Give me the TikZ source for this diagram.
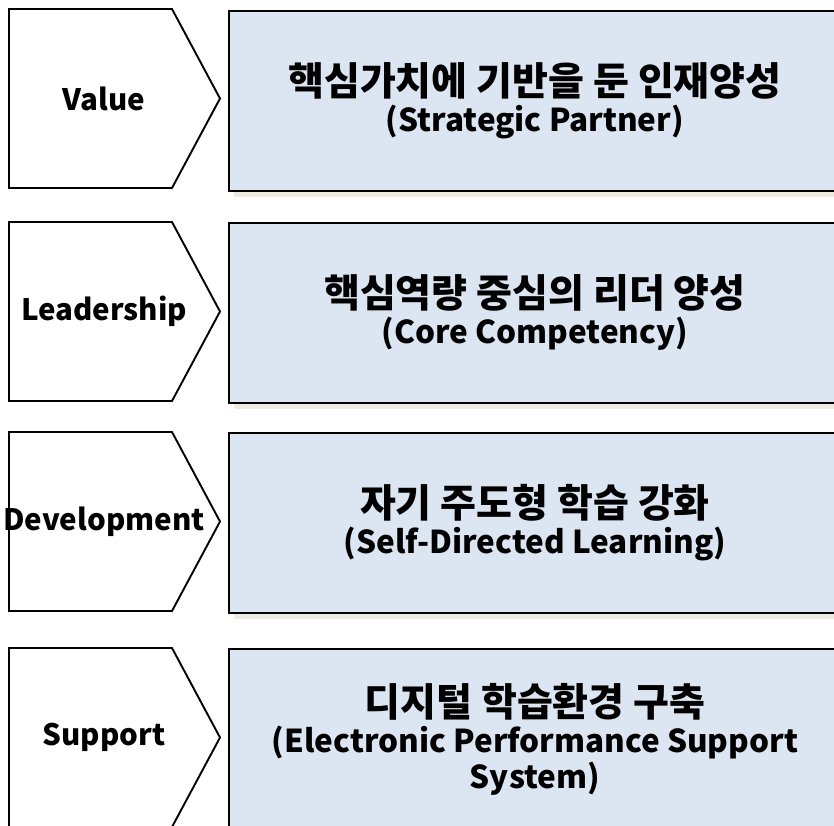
\documentclass[tikz,border=0pt]{standalone}
\usepackage{fontspec}
\setmainfont{Noto Sans CJK KR}
\usetikzlibrary{shadows}
\definecolor{boxblue}{HTML}{DCE6F2}
\definecolor{boxshade}{HTML}{EEECE1}
\begin{document}
\begin{tikzpicture}[x=1pt,y=-1pt,
  tag/.style={font=\fontsize{29.5}{34}\selectfont\bfseries},
  arrowbox/.style={draw=black,line width=1.9pt,fill=white},
  goal/.style={draw=black,line width=1.9pt,fill=boxblue,anchor=north west,
    minimum width=612pt,minimum height=180pt,inner sep=0pt,align=center,
    font=\fontsize{31.5}{36}\selectfont\bfseries,
    drop shadow={shadow xshift=5pt,shadow yshift=-6pt,fill=boxshade,opacity=1}}]
\useasboundingbox (0,0) rectangle (834,825);
% left arrows
\draw[arrowbox](9,9)--(172,9)--(220,98.5)--(172,188)--(9,188)--cycle;
\draw[arrowbox](9,222)--(172,222)--(220,311.5)--(172,401)--(9,401)--cycle;
\draw[arrowbox](9,432)--(172,432)--(220,521.5)--(172,611)--(9,611)--cycle;
\draw[arrowbox](9,648)--(172,648)--(220,737.5)--(172,827)--(9,827)--cycle;
\node[tag] (value) at (104,98.5){Value};
\node[tag] (leader) at (104,311.5){Leadership};
\node[tag] (develop) at (104,521.5){Development};
\node[tag] (support) at (104,737.5){Support};
% right boxes
\node[goal] (valuebox) at (228,10){{\fontsize{39}{37}\selectfont 핵심가치에 기반을 둔 인재양성}\\(Strategic Partner)};
\node[goal] (leaderbox) at (228,222){{\fontsize{39}{37}\selectfont 핵심역량 중심의 리더 양성}\\(Core Competency)};
\node[goal] (developbox) at (228,432){{\fontsize{39}{37}\selectfont 자기 주도형 학습 강화}\\(Self-Directed Learning)};
\node[goal] (supportbox) at (228,648){{\fontsize{39}{37}\selectfont 디지털 학습환경 구축}\\(Electronic Performance Support\\System)};
\end{tikzpicture}
\end{document}
